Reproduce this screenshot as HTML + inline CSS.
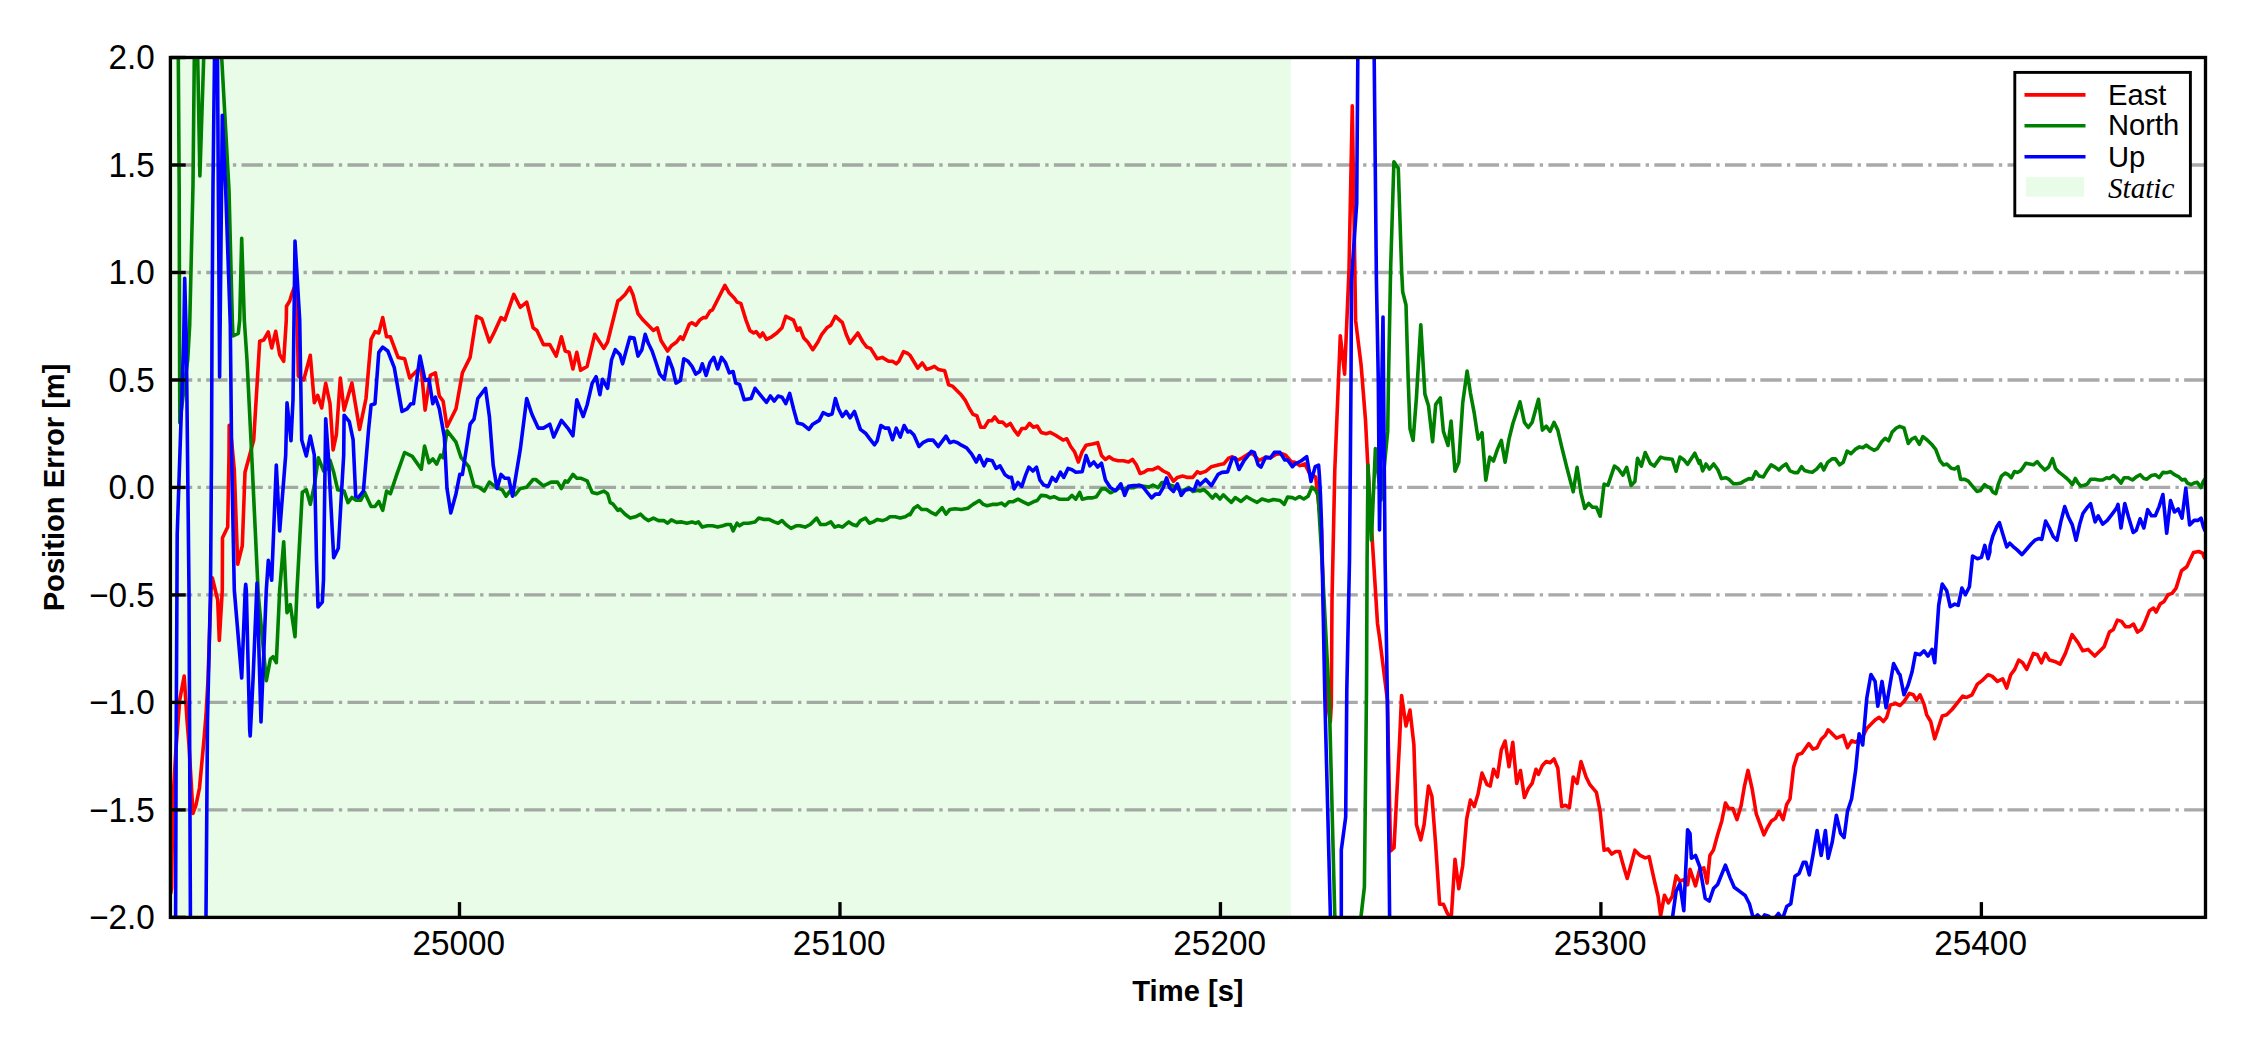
<!DOCTYPE html><html><head><meta charset="utf-8"><title>Position Error</title>
<style>html,body{margin:0;padding:0;background:#fff;}svg{display:block;}.tk{font-family:"Liberation Sans",Arial,sans-serif;font-size:33.33px;fill:#000;}.lb{font-family:"Liberation Sans",Arial,sans-serif;font-size:29.17px;font-weight:bold;fill:#000;}.lg{font-family:"Liberation Sans",Arial,sans-serif;font-size:29.17px;fill:#000;}.lgi{font-family:"Liberation Serif","Times New Roman",serif;font-style:italic;font-size:29.17px;fill:#000;}</style></head><body>
<svg width="2250" height="1050" viewBox="0 0 2250 1050">
<rect x="0" y="0" width="2250" height="1050" fill="#ffffff"/>
<defs><clipPath id="ax"><rect x="170.4" y="57.5" width="2035.10" height="859.90"/></clipPath></defs>
<rect x="170.4" y="57.5" width="1120.60" height="859.90" fill="#e8fce8"/>
<line x1="170.4" y1="165.00" x2="2205.5" y2="165.00" stroke="#808080" stroke-opacity="0.68" stroke-width="3.33" stroke-dasharray="21.33 5.33 3.33 5.33" stroke-dashoffset="-0.5"/>
<line x1="170.4" y1="272.48" x2="2205.5" y2="272.48" stroke="#808080" stroke-opacity="0.68" stroke-width="3.33" stroke-dasharray="21.33 5.33 3.33 5.33" stroke-dashoffset="-0.5"/>
<line x1="170.4" y1="379.96" x2="2205.5" y2="379.96" stroke="#808080" stroke-opacity="0.68" stroke-width="3.33" stroke-dasharray="21.33 5.33 3.33 5.33" stroke-dashoffset="-0.5"/>
<line x1="170.4" y1="487.45" x2="2205.5" y2="487.45" stroke="#808080" stroke-opacity="0.68" stroke-width="3.33" stroke-dasharray="21.33 5.33 3.33 5.33" stroke-dashoffset="-0.5"/>
<line x1="170.4" y1="594.93" x2="2205.5" y2="594.93" stroke="#808080" stroke-opacity="0.68" stroke-width="3.33" stroke-dasharray="21.33 5.33 3.33 5.33" stroke-dashoffset="-0.5"/>
<line x1="170.4" y1="702.42" x2="2205.5" y2="702.42" stroke="#808080" stroke-opacity="0.68" stroke-width="3.33" stroke-dasharray="21.33 5.33 3.33 5.33" stroke-dashoffset="-0.5"/>
<line x1="170.4" y1="809.90" x2="2205.5" y2="809.90" stroke="#808080" stroke-opacity="0.68" stroke-width="3.33" stroke-dasharray="21.33 5.33 3.33 5.33" stroke-dashoffset="-0.5"/>
<g clip-path="url(#ax)" fill="none" stroke-width="3.6" stroke-linejoin="round" stroke-linecap="square">
<path d="M171.0,892.0 L171.6,888.0 L172.3,840.0 L173.0,800.0 L175.7,753.0 L179.7,700.0 L184.2,676.0 L187.0,720.0 L189.0,745.0 L193.0,813.5 L196.0,805.0 L199.5,788.0 L204.0,739.5 L206.0,715.0 L208.0,680.0 L211.0,590.0 L212.3,577.7 L217.7,600.0 L219.3,640.5 L222.3,590.0 L222.5,537.7 L227.7,527.0 L229.0,455.0 L229.2,425.3 L231.5,440.0 L234.3,470.0 L237.7,564.3 L242.3,545.7 L245.0,472.3 L249.7,455.0 L253.7,440.0 L259.7,341.3 L263.7,340.0 L268.3,332.0 L271.7,348.0 L275.7,331.3 L279.7,354.7 L283.7,361.3 L286.3,320.0 L286.5,306.3 L289.7,301.0 L291.7,294.3 L294.0,288.0 L297.0,305.0 L298.3,376.0 L303.7,380.0 L310.3,355.3 L314.3,402.7 L317.7,395.3 L321.7,408.0 L325.7,383.3 L330.0,403.7 L333.1,449.9 L336.4,434.5 L340.3,378.0 L344.1,410.1 L351.9,383.1 L359.6,429.4 L366.0,398.5 L371.1,339.4 L375.0,331.7 L378.8,333.0 L382.7,317.6 L386.6,336.8 L390.4,336.8 L398.1,357.4 L404.6,358.7 L409.7,378.0 L417.4,370.3 L421.3,369.0 L425.1,410.1 L430.3,375.4 L435.4,372.8 L439.3,396.0 L443.1,401.1 L447.0,426.8 L456.0,408.8 L462.4,372.8 L470.1,357.4 L476.5,316.3 L481.7,318.8 L489.4,342.0 L494.5,331.7 L501.0,317.6 L504.8,320.1 L513.8,294.4 L520.2,307.3 L526.7,302.1 L533.1,327.8 L536.9,330.4 L543.4,344.6 L549.8,344.6 L556.2,356.1 L561.4,336.8 L565.2,351.0 L569.1,352.3 L572.9,369.0 L576.8,352.3 L580.6,370.3 L587.1,366.4 L594.8,334.3 L603.8,348.4 L607.6,342.0 L617.9,300.8 L620.0,299.6 L625.1,294.4 L629.8,287.5 L632.9,294.4 L638.0,313.7 L643.1,320.1 L648.3,325.3 L653.4,330.4 L657.3,327.8 L661.1,340.7 L667.6,351.0 L671.4,345.8 L676.6,342.0 L680.4,336.8 L683.0,339.4 L689.4,324.0 L692.0,322.7 L695.8,325.3 L699.7,320.1 L703.5,317.6 L706.1,317.6 L710.0,311.1 L712.5,309.8 L719.0,297.0 L724.9,285.4 L729.3,293.1 L734.4,298.3 L737.0,302.1 L740.8,303.4 L746.0,320.1 L749.8,330.4 L753.7,333.0 L756.2,331.7 L760.1,336.8 L762.7,333.0 L766.5,339.4 L771.7,336.8 L776.8,333.0 L782.0,327.8 L785.8,316.3 L791.0,318.8 L793.5,320.1 L797.4,330.4 L799.9,327.8 L803.8,338.1 L807.7,342.0 L812.8,349.7 L817.9,342.0 L821.8,334.3 L826.9,327.8 L830.8,325.3 L835.4,316.3 L842.4,322.7 L846.2,334.3 L850.1,343.3 L853.9,338.1 L857.8,333.0 L862.9,342.0 L866.8,347.1 L870.6,348.4 L877.1,358.7 L882.2,357.4 L888.6,361.3 L892.5,361.3 L896.3,363.8 L898.9,361.3 L903.5,351.7 L907.9,353.5 L910.0,355.3 L913.9,361.7 L917.7,368.1 L922.3,363.0 L926.7,369.4 L930.6,368.1 L934.4,366.3 L938.3,369.4 L944.7,370.7 L948.6,384.8 L952.4,386.1 L957.6,391.3 L961.4,395.1 L965.3,400.3 L969.1,408.0 L973.0,414.4 L976.8,415.7 L980.7,427.2 L984.6,427.2 L988.4,420.8 L991.7,420.8 L994.8,417.0 L998.7,422.1 L1002.5,422.1 L1006.4,426.0 L1010.3,423.4 L1014.1,429.8 L1018.0,435.0 L1021.8,428.5 L1025.7,428.5 L1029.5,423.4 L1033.4,427.2 L1037.2,426.0 L1041.1,432.4 L1046.2,433.7 L1050.1,432.4 L1055.2,435.0 L1059.1,437.5 L1063.0,440.1 L1066.8,438.8 L1070.7,446.5 L1074.5,451.7 L1078.4,462.0 L1082.2,451.7 L1086.1,445.2 L1092.5,444.0 L1097.7,442.7 L1101.5,455.5 L1105.4,459.4 L1109.2,456.8 L1113.1,459.4 L1118.2,460.7 L1123.4,460.7 L1128.5,462.0 L1132.4,459.4 L1136.2,464.5 L1140.1,473.5 L1143.9,472.2 L1147.8,469.7 L1152.9,469.7 L1158.1,467.1 L1163.2,471.0 L1168.4,473.5 L1173.5,481.2 L1177.4,477.4 L1182.5,476.1 L1187.6,477.4 L1192.8,477.4 L1197.4,471.7 L1200.0,473.3 L1205.7,471.4 L1211.4,466.7 L1219.0,464.8 L1223.8,463.8 L1228.6,458.1 L1232.4,456.7 L1238.1,460.0 L1242.9,457.6 L1249.5,453.3 L1253.3,454.3 L1259.0,460.5 L1264.8,457.6 L1270.5,457.6 L1276.2,454.3 L1281.9,453.8 L1285.7,455.2 L1291.4,461.9 L1295.2,462.4 L1300.0,465.7 L1304.8,463.8 L1309.5,473.3 L1315.7,477.1 L1321.6,530.0 L1325.6,690.0 L1330.3,722.0 L1331.3,705.0 L1332.0,600.0 L1334.8,470.0 L1340.3,335.7 L1344.6,374.1 L1349.0,270.0 L1352.3,105.9 L1355.6,320.4 L1361.1,365.0 L1365.5,420.0 L1367.9,467.0 L1372.0,535.7 L1377.5,623.4 L1379.7,638.7 L1387.4,700.0 L1390.6,851.0 L1394.0,847.8 L1399.4,744.8 L1401.6,695.5 L1406.0,726.0 L1410.0,710.1 L1413.9,744.8 L1416.4,824.5 L1420.8,839.9 L1424.1,824.5 L1428.5,786.0 L1431.9,796.2 L1435.7,845.1 L1439.6,904.2 L1443.4,904.2 L1447.3,913.2 L1451.1,919.6 L1455.0,859.2 L1458.8,888.8 L1462.7,865.7 L1466.6,819.4 L1470.4,800.1 L1474.3,806.5 L1478.1,793.7 L1482.0,773.1 L1487.1,784.7 L1490.2,786.0 L1493.5,769.3 L1497.4,777.0 L1501.3,750.0 L1505.1,741.0 L1509.0,766.7 L1512.8,742.3 L1516.7,783.4 L1520.5,770.5 L1524.4,797.5 L1528.3,788.5 L1532.1,783.4 L1536.0,769.3 L1538.5,774.4 L1542.4,765.4 L1546.2,761.5 L1550.1,762.8 L1554.0,759.0 L1557.8,768.0 L1561.7,806.5 L1565.5,805.2 L1569.4,807.8 L1573.2,777.0 L1577.1,783.4 L1581.0,761.5 L1586.1,777.0 L1589.9,784.7 L1596.4,792.4 L1600.2,811.7 L1604.1,850.2 L1607.9,848.9 L1611.8,854.1 L1615.7,851.5 L1619.5,851.5 L1623.4,865.7 L1627.2,878.5 L1631.1,864.4 L1634.9,850.2 L1640.1,855.4 L1645.2,857.9 L1649.1,856.7 L1654.2,879.8 L1658.1,896.5 L1660.6,915.8 L1664.5,895.2 L1668.4,902.9 L1672.2,896.5 L1676.1,875.9 L1679.9,881.1 L1683.8,879.8 L1687.6,884.9 L1690.0,869.3 L1692.8,877.6 L1695.5,885.9 L1699.7,869.3 L1703.8,867.9 L1707.1,883.1 L1709.9,855.5 L1713.5,849.9 L1717.6,834.8 L1721.8,820.9 L1725.4,803.0 L1728.7,808.5 L1732.8,808.5 L1737.0,819.6 L1741.1,805.7 L1744.4,786.4 L1748.0,770.4 L1752.2,789.2 L1756.3,814.0 L1760.4,825.1 L1764.0,834.8 L1767.3,827.8 L1771.5,820.9 L1775.6,818.2 L1779.0,811.3 L1783.1,819.6 L1786.7,804.4 L1790.0,798.8 L1793.6,767.1 L1797.7,754.6 L1801.9,753.3 L1808.8,743.6 L1812.9,749.1 L1817.1,747.7 L1821.2,739.4 L1825.4,735.3 L1828.1,729.8 L1832.3,733.9 L1836.4,738.1 L1843.3,735.3 L1847.5,747.7 L1851.6,740.8 L1855.7,742.2 L1862.7,736.7 L1866.8,728.4 L1870.9,724.3 L1875.1,720.1 L1879.2,717.3 L1883.4,721.5 L1886.7,717.3 L1890.3,704.9 L1895.8,703.5 L1900.0,705.5 L1904.0,701.5 L1909.3,693.4 L1913.3,694.8 L1916.5,700.1 L1920.0,694.8 L1924.0,704.1 L1926.7,714.8 L1930.7,721.5 L1934.7,738.8 L1938.7,726.8 L1942.2,716.1 L1946.7,714.8 L1952.0,709.5 L1957.4,702.8 L1962.7,696.1 L1966.7,697.4 L1972.0,694.8 L1977.4,684.1 L1982.7,680.1 L1988.0,674.8 L1992.0,676.1 L1997.4,681.4 L2002.7,678.8 L2006.7,688.1 L2010.7,674.8 L2014.7,669.4 L2018.7,660.1 L2022.7,662.8 L2026.7,669.4 L2033.4,653.4 L2037.4,654.8 L2041.4,662.8 L2045.4,653.4 L2049.4,660.1 L2054.7,661.4 L2060.1,664.1 L2065.4,653.4 L2072.1,634.7 L2078.2,642.8 L2082.8,650.8 L2088.1,649.4 L2094.8,656.1 L2100.1,650.8 L2104.1,646.8 L2109.4,632.1 L2113.4,629.4 L2117.4,620.1 L2121.5,621.4 L2125.5,626.7 L2129.5,626.7 L2133.5,624.1 L2137.5,632.1 L2141.5,629.4 L2144.1,624.1 L2149.5,610.7 L2153.5,608.1 L2156.1,612.1 L2160.1,604.1 L2164.1,601.4 L2168.1,594.7 L2172.1,593.4 L2176.1,588.1 L2181.5,570.7 L2186.8,566.7 L2193.5,552.6 L2198.8,551.5 L2202.8,553.4 L2204.2,557.4 L2209.5,562.7" stroke="#ff0000"/>
<path d="M174.0,20.0 L178.3,58.0 L179.2,190.0 L179.5,325.0 L179.8,422.7 L182.0,405.0 L185.0,380.0 L187.7,360.0 L189.7,325.0 L193.0,185.0 L194.3,58.0 L195.0,20.0 L197.0,20.0 L197.7,58.0 L199.9,176.0 L203.7,58.0 L204.5,20.0 L220.5,20.0 L221.7,58.0 L229.0,190.0 L232.3,320.0 L233.0,336.0 L238.3,333.3 L239.7,320.0 L241.7,238.3 L244.3,320.0 L247.0,360.0 L251.7,455.0 L258.3,595.0 L266.3,680.7 L270.3,659.3 L273.0,656.7 L276.3,662.7 L279.7,590.0 L283.7,541.7 L287.0,612.7 L290.3,604.7 L295.0,636.7 L297.0,590.0 L302.3,492.3 L306.3,489.7 L310.3,504.3 L314.3,485.7 L318.3,457.7 L323.7,471.0 L328.0,468.0 L330.0,460.2 L333.9,473.1 L337.7,489.8 L344.1,491.1 L348.0,502.6 L351.9,497.5 L355.7,500.1 L360.8,500.1 L364.7,492.4 L371.1,506.5 L375.0,506.5 L378.8,501.4 L382.7,510.4 L386.6,491.1 L390.4,493.7 L396.8,474.4 L404.6,452.5 L412.3,456.4 L421.3,469.2 L424.6,446.1 L429.0,462.8 L432.8,458.9 L436.7,464.1 L440.5,455.1 L443.1,457.7 L447.0,430.7 L456.0,442.2 L461.1,457.7 L468.8,466.7 L474.0,485.9 L479.1,487.2 L484.2,491.1 L489.4,482.1 L495.8,487.2 L502.2,489.8 L506.1,496.2 L509.9,491.1 L515.1,494.9 L520.2,488.5 L526.7,487.2 L533.1,479.5 L535.7,479.5 L543.4,485.9 L551.1,482.1 L557.5,482.1 L561.4,488.5 L565.2,480.8 L567.8,482.1 L572.9,474.4 L576.8,478.2 L580.6,478.2 L587.1,480.8 L592.2,492.4 L597.4,493.7 L603.8,491.1 L607.6,493.7 L610.2,502.6 L612.8,503.9 L617.9,510.4 L620.0,509.1 L625.1,514.2 L630.3,518.1 L635.4,516.8 L640.6,514.2 L644.4,518.1 L648.3,520.6 L653.4,518.1 L658.6,520.6 L663.7,520.6 L667.6,523.2 L671.4,519.9 L676.6,522.4 L681.7,521.9 L686.8,523.2 L692.0,521.9 L695.8,523.2 L698.4,521.9 L702.3,527.1 L707.4,525.8 L712.5,525.8 L717.7,527.1 L722.8,525.8 L726.7,524.5 L730.5,524.5 L733.1,530.9 L737.0,523.2 L739.5,525.8 L743.4,523.2 L748.5,523.2 L755.0,521.9 L758.8,518.1 L764.0,519.4 L769.1,519.4 L774.2,521.9 L778.1,523.2 L782.0,520.6 L785.8,524.5 L791.0,528.4 L796.1,525.8 L799.9,525.8 L805.1,527.1 L810.2,524.5 L816.7,518.1 L820.5,524.5 L825.7,524.5 L830.8,521.9 L834.7,527.1 L838.5,525.8 L842.4,527.1 L848.8,521.9 L852.6,524.5 L856.5,525.8 L860.4,520.6 L865.5,518.1 L869.4,523.2 L873.2,521.9 L877.1,519.4 L882.2,520.6 L886.1,519.4 L889.9,516.8 L895.1,516.8 L900.2,518.1 L905.3,516.8 L909.2,514.2 L910.0,514.7 L913.9,508.2 L917.7,505.7 L921.6,509.5 L926.7,509.5 L930.6,512.1 L935.7,514.7 L942.1,507.7 L946.0,514.1 L949.8,509.5 L955.0,508.7 L961.4,509.5 L967.8,508.2 L973.0,504.4 L979.4,500.5 L983.3,504.4 L987.1,505.7 L992.3,504.4 L997.4,504.4 L1001.3,503.1 L1005.1,505.7 L1009.0,501.8 L1012.8,501.8 L1018.0,499.2 L1023.1,501.8 L1028.3,504.4 L1033.4,501.8 L1037.2,500.5 L1041.1,495.4 L1046.2,495.9 L1050.1,497.9 L1054.0,496.7 L1059.1,499.2 L1064.2,499.2 L1068.1,499.2 L1072.0,495.4 L1075.8,499.2 L1079.7,492.3 L1082.2,499.2 L1087.4,497.9 L1092.5,497.9 L1096.4,496.7 L1101.5,488.9 L1105.4,488.9 L1110.5,492.8 L1115.7,490.2 L1119.5,487.7 L1123.4,488.9 L1128.5,487.7 L1133.7,487.7 L1138.8,485.1 L1143.9,486.4 L1149.1,487.1 L1152.9,485.1 L1158.1,487.7 L1161.9,482.5 L1165.8,482.5 L1169.6,485.1 L1174.8,486.4 L1179.9,490.2 L1183.8,490.2 L1188.9,487.7 L1192.8,491.5 L1197.9,490.2 L1200.0,491.0 L1203.8,489.5 L1207.6,492.9 L1212.4,498.1 L1215.7,494.3 L1220.0,499.0 L1223.3,494.8 L1227.6,499.0 L1231.4,502.4 L1235.2,497.6 L1241.0,501.4 L1246.7,496.7 L1251.4,499.5 L1257.1,502.4 L1261.9,499.0 L1268.6,501.0 L1273.3,499.5 L1280.0,500.5 L1284.3,504.3 L1287.6,497.1 L1292.4,497.6 L1295.2,499.0 L1299.5,496.7 L1303.8,499.0 L1308.1,496.2 L1311.9,487.1 L1315.7,490.5 L1318.1,495.2 L1322.0,560.0 L1329.3,700.0 L1334.8,915.7 L1337.0,960.0 L1359.0,960.0 L1361.1,915.7 L1364.4,887.0 L1366.5,690.0 L1367.1,560.0 L1368.0,464.8 L1371.4,540.2 L1375.4,448.5 L1381.0,500.0 L1387.7,431.4 L1388.5,380.0 L1390.6,270.0 L1393.9,161.7 L1398.3,168.3 L1401.6,270.0 L1402.7,291.9 L1406.0,305.0 L1408.2,380.0 L1410.0,428.8 L1413.1,440.4 L1416.4,398.0 L1420.8,324.7 L1424.9,394.1 L1428.5,405.7 L1432.6,441.7 L1435.7,404.4 L1440.3,398.0 L1443.4,431.4 L1448.0,445.5 L1451.1,421.1 L1455.0,471.2 L1458.8,462.2 L1462.7,403.1 L1467.1,371.0 L1470.4,392.8 L1474.3,413.4 L1478.1,439.1 L1482.0,432.7 L1485.8,480.2 L1489.7,457.1 L1493.5,461.0 L1497.4,449.4 L1501.3,440.4 L1505.1,462.2 L1509.0,439.1 L1512.8,423.7 L1520.0,401.8 L1524.4,422.4 L1528.3,427.5 L1532.1,422.4 L1538.5,399.3 L1542.4,430.1 L1546.2,426.2 L1550.1,431.4 L1554.0,422.4 L1557.8,430.1 L1561.7,446.8 L1566.8,467.4 L1573.2,491.8 L1577.1,467.4 L1581.0,493.1 L1584.8,508.5 L1588.7,503.4 L1592.5,507.2 L1596.4,507.2 L1600.2,516.2 L1604.1,484.1 L1607.9,485.4 L1614.4,466.1 L1618.2,468.7 L1622.9,475.1 L1626.7,467.4 L1631.1,485.4 L1634.9,481.5 L1637.5,458.4 L1641.4,466.1 L1645.2,452.5 L1650.4,463.5 L1654.2,466.1 L1660.6,457.1 L1664.5,458.4 L1672.2,459.2 L1676.1,471.2 L1679.9,457.1 L1683.8,459.7 L1687.6,464.3 L1694.8,453.2 L1699.2,463.5 L1700.0,460.6 L1702.6,470.9 L1706.0,464.0 L1709.4,469.1 L1713.7,464.0 L1718.0,470.0 L1721.4,478.6 L1725.7,477.7 L1729.1,479.4 L1733.4,483.7 L1736.9,483.7 L1741.1,482.9 L1745.4,480.3 L1748.9,478.6 L1752.3,479.1 L1755.7,471.7 L1759.1,476.0 L1763.4,476.9 L1766.9,470.9 L1771.1,464.9 L1775.4,467.4 L1778.9,470.0 L1782.3,466.6 L1786.1,464.0 L1790.0,470.9 L1794.3,472.6 L1797.7,472.6 L1801.5,466.6 L1804.6,470.5 L1808.9,471.7 L1812.3,472.2 L1816.6,469.1 L1820.9,464.0 L1823.8,470.0 L1827.7,462.3 L1832.0,458.9 L1835.4,458.9 L1839.7,464.9 L1843.2,462.3 L1847.1,451.1 L1850.9,453.7 L1855.2,449.4 L1859.4,446.9 L1862.9,447.7 L1866.3,445.1 L1869.7,447.7 L1874.0,450.3 L1877.4,448.6 L1881.7,441.7 L1885.2,438.3 L1888.6,440.9 L1892.0,432.3 L1896.3,428.0 L1899.7,426.3 L1904.0,428.0 L1908.3,443.4 L1911.7,439.1 L1915.2,437.4 L1919.4,444.3 L1922.9,436.6 L1927.2,440.0 L1932.3,445.1 L1935.7,449.4 L1940.0,460.6 L1943.4,464.9 L1946.9,464.0 L1951.2,468.3 L1954.6,469.1 L1958.0,466.6 L1960.6,479.4 L1964.9,479.4 L1968.3,481.1 L1972.6,486.3 L1976.9,491.4 L1980.3,490.6 L1984.6,484.6 L1988.0,487.1 L1990.0,487.6 L1993.0,492.2 L1995.8,493.7 L1998.4,483.8 L2001.4,476.2 L2005.2,473.1 L2008.3,474.7 L2011.3,477.7 L2014.4,471.6 L2017.4,472.4 L2020.5,470.8 L2022.8,467.8 L2025.8,463.2 L2029.6,464.0 L2033.4,464.8 L2037.2,461.7 L2041.0,466.3 L2044.8,470.1 L2048.7,467.0 L2052.5,458.7 L2055.5,468.6 L2059.3,472.4 L2063.1,475.4 L2066.9,478.5 L2069.2,480.7 L2072.3,484.6 L2075.3,478.5 L2077.6,482.3 L2080.7,486.1 L2084.5,485.3 L2087.5,483.8 L2090.6,479.2 L2095.1,479.2 L2098.9,480.0 L2102.7,480.0 L2106.6,477.7 L2109.6,478.5 L2113.4,475.4 L2117.2,478.5 L2121.0,483.0 L2124.1,477.7 L2127.9,477.7 L2132.5,480.0 L2136.3,476.9 L2140.1,474.7 L2143.9,478.5 L2146.9,479.2 L2151.5,475.4 L2155.3,474.7 L2159.1,477.7 L2162.9,472.4 L2166.7,472.8 L2170.5,471.6 L2174.4,474.7 L2178.9,476.9 L2182.0,480.0 L2185.0,479.2 L2187.3,483.0 L2191.1,484.6 L2194.2,483.0 L2197.2,482.3 L2201.0,487.6 L2203.3,481.5 L2204.8,479.2 L2209.4,477.7" stroke="#008000"/>
<path d="M172.0,960.0 L175.6,917.0 L176.2,730.0 L176.8,620.0 L177.2,534.7 L183.7,340.0 L184.7,278.3 L186.3,340.0 L189.0,590.0 L190.4,915.0 L191.0,960.0 L205.0,960.0 L206.0,915.0 L207.5,720.0 L210.5,590.0 L211.5,455.0 L212.0,330.0 L213.0,185.0 L214.5,58.0 L215.0,20.0 L216.0,20.0 L217.5,58.0 L218.3,185.0 L219.3,325.0 L219.6,377.0 L222.3,115.3 L225.7,190.0 L230.3,325.0 L231.7,460.0 L234.3,590.0 L241.7,678.0 L245.2,590.0 L245.7,584.3 L246.3,590.0 L249.7,730.0 L250.2,736.0 L253.0,680.0 L257.0,583.0 L261.0,722.0 L266.3,590.0 L268.3,560.3 L271.7,580.3 L276.3,465.0 L279.7,531.0 L285.7,455.0 L287.0,402.7 L291.0,440.7 L293.0,400.0 L295.0,241.0 L299.7,320.0 L301.7,440.0 L306.3,456.0 L310.3,436.0 L314.3,455.0 L316.5,560.0 L318.0,607.0 L322.3,602.0 L323.5,580.0 L325.7,418.7 L328.3,455.0 L333.7,557.7 L338.3,548.3 L343.7,455.0 L344.1,415.2 L349.3,421.7 L353.1,439.7 L355.7,496.2 L358.3,497.5 L363.4,491.1 L368.6,429.4 L371.1,405.0 L375.0,403.7 L378.8,352.3 L382.7,347.1 L387.8,351.0 L394.3,367.7 L402.0,411.4 L407.1,408.8 L411.0,403.7 L413.5,403.7 L420.0,356.1 L425.1,380.5 L429.0,379.3 L432.8,403.7 L435.4,397.2 L439.3,408.8 L444.4,437.1 L447.0,488.5 L450.8,512.9 L456.0,493.7 L459.8,474.4 L462.4,474.4 L470.1,424.2 L474.0,419.1 L477.8,398.5 L485.5,388.3 L489.4,416.5 L493.2,465.4 L497.1,488.5 L501.0,474.4 L504.8,478.2 L508.7,478.2 L512.5,496.2 L520.2,449.9 L526.7,398.5 L531.8,414.0 L538.2,428.1 L543.4,428.1 L549.8,424.2 L553.7,437.1 L561.4,420.4 L567.8,428.1 L572.9,435.8 L576.8,399.8 L583.2,416.5 L587.1,405.0 L592.2,383.1 L596.1,376.7 L599.9,394.7 L602.5,379.3 L607.6,388.3 L611.5,360.0 L615.3,349.7 L620.0,354.8 L622.6,363.8 L625.7,352.3 L629.8,337.4 L634.1,338.1 L638.0,356.1 L641.9,349.7 L645.2,334.3 L648.3,343.3 L652.1,351.0 L656.0,362.5 L659.8,374.1 L664.2,379.3 L668.3,357.4 L672.7,369.0 L676.0,383.1 L680.4,380.5 L683.8,358.7 L688.1,361.3 L692.0,366.4 L695.8,374.1 L699.7,371.5 L702.3,363.8 L706.1,375.4 L710.0,362.5 L713.8,357.4 L717.7,369.0 L721.5,357.4 L725.4,362.5 L729.3,372.8 L733.1,371.5 L735.7,383.1 L739.5,384.4 L744.2,399.8 L751.1,398.5 L755.0,388.3 L760.1,394.7 L766.5,402.4 L770.4,396.0 L774.2,401.1 L778.1,396.0 L782.0,397.2 L785.8,403.7 L789.7,393.4 L793.5,408.8 L797.4,423.0 L802.5,424.2 L808.9,429.4 L812.8,424.2 L819.2,420.4 L823.1,412.7 L828.2,415.2 L832.1,414.0 L835.4,398.5 L838.5,408.8 L842.4,416.5 L846.2,411.4 L850.1,417.8 L854.4,411.4 L860.4,429.4 L865.5,433.2 L869.4,438.4 L874.5,444.8 L877.1,441.0 L880.9,425.5 L884.8,428.1 L888.6,428.1 L892.5,439.7 L896.3,428.1 L900.2,437.1 L904.1,425.5 L907.9,432.0 L910.0,431.1 L913.9,435.0 L919.0,446.5 L922.9,442.7 L928.0,440.1 L933.1,440.1 L938.3,446.5 L942.1,441.4 L946.0,436.2 L949.8,442.7 L953.7,441.4 L957.6,442.7 L961.4,445.2 L966.6,447.8 L971.7,454.2 L976.3,462.0 L979.4,455.5 L984.0,465.8 L987.1,459.4 L992.3,460.7 L996.1,468.4 L1000.0,465.8 L1005.1,474.8 L1009.0,477.4 L1011.5,477.4 L1014.1,488.9 L1018.0,482.5 L1021.8,486.4 L1025.7,474.8 L1028.8,467.1 L1032.9,471.0 L1036.5,467.1 L1039.8,479.9 L1043.7,485.1 L1048.3,486.4 L1052.2,477.4 L1056.0,481.2 L1060.4,472.2 L1063.7,477.4 L1068.1,468.4 L1072.0,469.7 L1075.8,472.2 L1082.2,471.7 L1086.1,455.5 L1089.9,465.8 L1093.8,462.0 L1097.7,467.1 L1101.5,463.2 L1105.4,479.9 L1110.5,487.7 L1115.7,490.7 L1120.8,483.8 L1124.7,495.4 L1128.5,486.4 L1133.7,485.6 L1138.8,485.6 L1142.6,486.4 L1146.5,491.5 L1151.6,497.9 L1155.5,494.1 L1159.4,494.1 L1163.2,487.7 L1166.6,477.9 L1169.6,487.7 L1173.5,491.5 L1177.4,483.8 L1181.2,495.4 L1185.1,490.2 L1190.2,488.9 L1194.1,490.2 L1197.4,481.2 L1200.0,484.8 L1205.7,479.5 L1211.4,485.7 L1218.1,474.3 L1221.9,472.4 L1227.6,471.9 L1232.4,458.1 L1235.2,458.1 L1239.0,469.5 L1243.8,461.0 L1251.4,451.4 L1254.3,452.4 L1258.1,464.8 L1261.0,467.1 L1265.7,457.1 L1270.5,458.1 L1274.3,452.4 L1280.0,452.4 L1284.8,460.0 L1287.6,460.0 L1292.4,466.7 L1295.2,463.8 L1301.0,461.0 L1306.7,456.7 L1311.0,481.4 L1315.2,466.7 L1318.6,465.2 L1319.5,477.1 L1320.5,496.2 L1321.4,520.0 L1324.9,700.0 L1330.4,915.7 L1333.0,960.0 L1340.0,960.0 L1341.3,915.7 L1341.3,850.0 L1345.7,817.0 L1346.8,690.0 L1349.5,560.0 L1350.3,470.0 L1351.0,380.0 L1351.5,280.0 L1356.7,203.4 L1357.8,58.8 L1359.0,20.0 L1373.0,20.0 L1374.2,58.8 L1376.4,280.0 L1378.3,380.0 L1379.5,530.0 L1381.5,400.0 L1383.0,317.0 L1385.1,560.0 L1387.4,700.0 L1389.6,915.7 L1391.0,960.0 L1665.0,960.0 L1672.2,919.6 L1676.1,891.4 L1679.9,883.7 L1683.8,910.6 L1687.6,829.7 L1690.0,833.4 L1691.4,858.2 L1695.5,855.5 L1699.7,866.5 L1705.2,898.3 L1709.3,901.0 L1713.5,888.6 L1717.6,884.5 L1725.4,865.1 L1730.1,877.6 L1734.2,887.2 L1739.7,891.4 L1745.2,895.5 L1749.4,903.8 L1753.5,919.0 L1757.7,914.9 L1761.8,919.0 L1764.6,914.9 L1768.7,916.2 L1772.9,920.4 L1778.4,913.5 L1782.5,919.0 L1786.7,906.6 L1790.8,903.8 L1795.0,876.2 L1799.1,873.4 L1803.3,862.4 L1806.0,862.4 L1809.3,874.8 L1812.9,855.5 L1817.1,830.6 L1821.2,855.5 L1825.4,830.6 L1828.1,858.2 L1832.3,841.7 L1836.4,815.4 L1840.6,833.4 L1844.1,837.5 L1847.5,811.3 L1851.6,798.8 L1855.7,769.8 L1859.1,733.9 L1862.7,745.0 L1866.8,698.0 L1870.9,674.5 L1875.1,681.4 L1877.8,706.3 L1882.0,681.4 L1886.1,707.7 L1889.4,688.3 L1893.6,663.5 L1898.6,673.1 L1900.0,674.8 L1904.0,694.8 L1908.0,685.4 L1912.0,672.1 L1915.5,653.4 L1920.0,654.8 L1924.0,650.8 L1928.0,656.1 L1932.0,649.4 L1934.7,662.8 L1938.7,605.4 L1942.2,584.1 L1946.7,590.7 L1950.2,606.7 L1954.7,604.1 L1958.2,605.4 L1961.9,588.1 L1965.4,594.7 L1969.4,586.7 L1972.6,556.0 L1977.4,558.7 L1981.4,557.4 L1984.8,545.4 L1988.0,558.7 L1989.9,552.0 L1990.0,546.3 L1993.0,535.6 L1996.9,526.5 L1999.4,522.6 L2003.0,534.8 L2006.8,547.0 L2009.8,543.2 L2012.9,546.3 L2017.4,550.1 L2022.0,554.6 L2026.6,549.3 L2031.1,544.0 L2034.9,540.2 L2038.8,538.6 L2041.8,539.4 L2045.6,521.1 L2049.4,528.0 L2053.2,536.4 L2057.0,540.2 L2060.8,521.9 L2064.7,506.6 L2068.5,517.3 L2072.3,524.9 L2076.1,540.2 L2079.9,523.4 L2082.9,513.5 L2086.7,508.2 L2090.6,503.6 L2095.1,521.9 L2098.2,515.8 L2102.7,524.2 L2107.3,520.4 L2111.9,514.3 L2116.5,508.2 L2118.0,504.4 L2121.0,528.0 L2124.8,503.6 L2128.6,517.3 L2133.2,532.5 L2136.3,530.3 L2140.1,518.8 L2143.9,528.0 L2147.7,509.7 L2151.5,515.8 L2155.3,515.8 L2159.1,506.6 L2162.9,494.5 L2166.7,533.3 L2170.5,500.6 L2174.4,512.0 L2178.2,508.9 L2182.0,518.1 L2185.8,488.4 L2189.6,524.9 L2194.2,520.4 L2198.0,520.4 L2201.0,518.1 L2203.3,526.5 L2204.8,530.3 L2209.4,537.1" stroke="#0000ff"/>
</g>
<rect x="2014.8" y="72.4" width="175.6" height="143.4" fill="#ffffff" stroke="#000" stroke-width="2.9"/>
<line x1="2024.5" y1="94.9" x2="2085.5" y2="94.9" stroke="#ff0000" stroke-width="3.6"/>
<line x1="2024.5" y1="125.7" x2="2085.5" y2="125.7" stroke="#008000" stroke-width="3.6"/>
<line x1="2024.5" y1="156.7" x2="2085.5" y2="156.7" stroke="#0000ff" stroke-width="3.6"/>
<rect x="2025.9" y="177.1" width="58.2" height="19.6" fill="#e8fce8"/>
<text class="lg" transform="translate(2108,104.8) scale(1,1.035)">East</text>
<text class="lg" transform="translate(2108,135.4) scale(1,1.035)">North</text>
<text class="lg" transform="translate(2108,166.5) scale(1,1.035)">Up</text>
<text class="lgi" x="2108" y="198.0">Static</text>
<rect x="170.4" y="57.5" width="2035.10" height="859.90" fill="none" stroke="#000" stroke-width="3.33"/>
<line x1="170.4" y1="917.39" x2="185.70" y2="917.39" stroke="#000" stroke-width="3.33"/>
<text class="tk" transform="translate(154.8,929.29) scale(1,1.035)" text-anchor="end">−2.0</text>
<line x1="170.4" y1="809.90" x2="185.70" y2="809.90" stroke="#000" stroke-width="3.33"/>
<text class="tk" transform="translate(154.8,821.80) scale(1,1.035)" text-anchor="end">−1.5</text>
<line x1="170.4" y1="702.42" x2="185.70" y2="702.42" stroke="#000" stroke-width="3.33"/>
<text class="tk" transform="translate(154.8,714.32) scale(1,1.035)" text-anchor="end">−1.0</text>
<line x1="170.4" y1="594.93" x2="185.70" y2="594.93" stroke="#000" stroke-width="3.33"/>
<text class="tk" transform="translate(154.8,606.83) scale(1,1.035)" text-anchor="end">−0.5</text>
<line x1="170.4" y1="487.45" x2="185.70" y2="487.45" stroke="#000" stroke-width="3.33"/>
<text class="tk" transform="translate(154.8,499.35) scale(1,1.035)" text-anchor="end">0.0</text>
<line x1="170.4" y1="379.96" x2="185.70" y2="379.96" stroke="#000" stroke-width="3.33"/>
<text class="tk" transform="translate(154.8,391.86) scale(1,1.035)" text-anchor="end">0.5</text>
<line x1="170.4" y1="272.48" x2="185.70" y2="272.48" stroke="#000" stroke-width="3.33"/>
<text class="tk" transform="translate(154.8,284.38) scale(1,1.035)" text-anchor="end">1.0</text>
<line x1="170.4" y1="165.00" x2="185.70" y2="165.00" stroke="#000" stroke-width="3.33"/>
<text class="tk" transform="translate(154.8,176.90) scale(1,1.035)" text-anchor="end">1.5</text>
<line x1="170.4" y1="57.51" x2="185.70" y2="57.51" stroke="#000" stroke-width="3.33"/>
<text class="tk" transform="translate(154.8,69.41) scale(1,1.035)" text-anchor="end">2.0</text>
<line x1="459.50" y1="917.4" x2="459.50" y2="902.10" stroke="#000" stroke-width="3.33"/>
<text class="tk" transform="translate(458.70,954.5) scale(1,1.035)" text-anchor="middle">25000</text>
<line x1="839.97" y1="917.4" x2="839.97" y2="902.10" stroke="#000" stroke-width="3.33"/>
<text class="tk" transform="translate(839.17,954.5) scale(1,1.035)" text-anchor="middle">25100</text>
<line x1="1220.44" y1="917.4" x2="1220.44" y2="902.10" stroke="#000" stroke-width="3.33"/>
<text class="tk" transform="translate(1219.64,954.5) scale(1,1.035)" text-anchor="middle">25200</text>
<line x1="1600.91" y1="917.4" x2="1600.91" y2="902.10" stroke="#000" stroke-width="3.33"/>
<text class="tk" transform="translate(1600.11,954.5) scale(1,1.035)" text-anchor="middle">25300</text>
<line x1="1981.38" y1="917.4" x2="1981.38" y2="902.10" stroke="#000" stroke-width="3.33"/>
<text class="tk" transform="translate(1980.58,954.5) scale(1,1.035)" text-anchor="middle">25400</text>
<text class="lb" transform="translate(1187.95,1000.9) scale(1,1.035)" text-anchor="middle">Time [s]</text>
<text class="lb" transform="translate(64,487.45) rotate(-90) scale(1,1.035)" text-anchor="middle">Position Error [m]</text>
</svg></body></html>
